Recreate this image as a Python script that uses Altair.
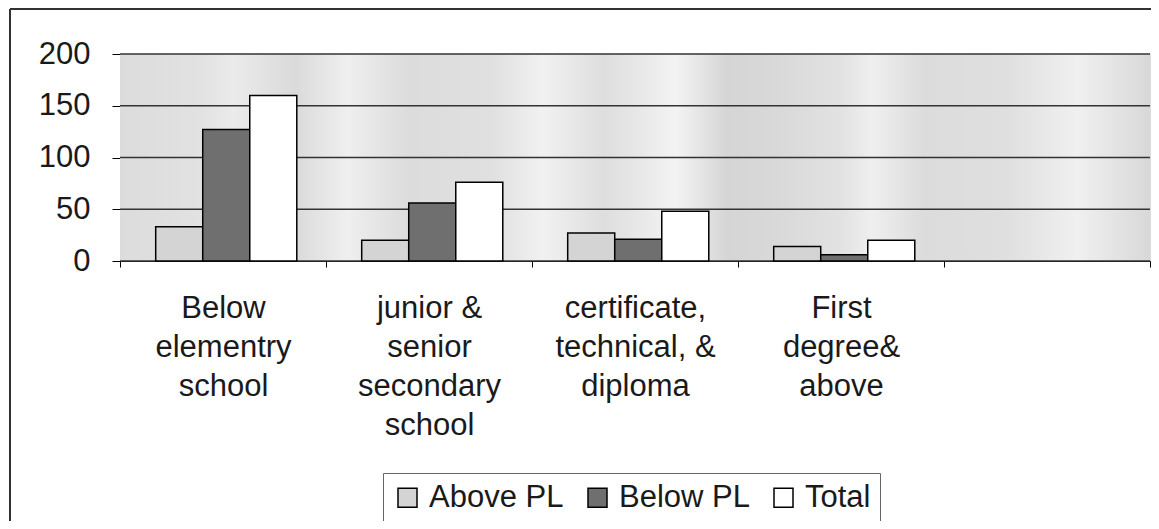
import altair as alt
import pandas as pd

categories = [
    "Below\nelementry\nschool",
    "junior &\nsenior\nsecondary\nschool",
    "certificate,\ntechnical, &\ndiploma",
    "First\ndegree&\nabove",
    " ",
]
series = ["Above PL", "Below PL", "Total"]
above_pl = [33, 20, 27, 14]
below_pl = [127, 56, 21, 6]
total = [160, 76, 48, 20]
y_ticks = [0, 50, 100, 150, 200]

rows = []
for i, c in enumerate(categories[:4]):
    rows.append({"category": c, "series": "Above PL", "value": above_pl[i]})
    rows.append({"category": c, "series": "Below PL", "value": below_pl[i]})
    rows.append({"category": c, "series": "Total", "value": total[i]})
df = pd.DataFrame(rows)
grid_df = pd.DataFrame({"tick": y_ticks})

W, H = 1030, 207
FONT = "Liberation Sans"

stops_spec = [
    (0.00, "#dcdcdc"), (0.08, "#e2e2e2"), (0.11, "#ebebeb"), (0.17, "#dadada"),
    (0.22, "#efefef"), (0.28, "#dcdcdc"), (0.36, "#e0e0e0"), (0.41, "#f1f1f1"),
    (0.47, "#dedede"), (0.54, "#f3f3f3"), (0.59, "#d5d5d5"), (0.64, "#d9d9d9"),
    (0.70, "#e2e2e2"), (0.73, "#efefef"), (0.78, "#dcdcdc"), (0.86, "#dfdfdf"),
    (0.93, "#f0f0f0"), (1.00, "#d8d8d8"),
]
gradient = alt.LinearGradient(
    gradient="linear",
    stops=[alt.GradientStop(offset=o, color=c) for o, c in stops_spec],
    x1=0, x2=1, y1=0, y2=0,
)

background = alt.Chart(grid_df).mark_rect(fill=gradient, stroke=None).encode(
    x=alt.value(0), x2=alt.value(W), y=alt.value(0), y2=alt.value(H)
)

grid = alt.Chart(grid_df).mark_rule(color="#333333", strokeWidth=1.3).encode(
    y=alt.Y("tick:Q", title=None),
    x=alt.value(0),
    x2=alt.value(W),
)

bars = alt.Chart(df).mark_bar(stroke="#000000", strokeWidth=1.5).encode(
    x=alt.X(
        "category:N",
        sort=categories,
        scale=alt.Scale(domain=categories, paddingInner=0, paddingOuter=0),
        axis=alt.Axis(
            title=None,
            labelAngle=0,
            labelExpr="split(datum.label, '\\n')",
            labelFont=FONT,
            labelFontSize=31,
            labelLineHeight=39,
            labelColor="#1a1a1a",
            labelBaseline="top",
            labelPadding=26,
            tickBand="extent",
            tickSize=6,
            tickColor="#000000",
            domainColor="#000000",
            grid=False,
        ),
    ),
    xOffset=alt.XOffset(
        "series:N", sort=series,
        scale=alt.Scale(domain=series, paddingInner=0, paddingOuter=0.69, align=0.55),
    ),
    y=alt.Y(
        "value:Q",
        scale=alt.Scale(domain=[0, 200], nice=False),
        axis=alt.Axis(
            title=None,
            values=y_ticks,
            grid=False,
            labelFont=FONT,
            labelFontSize=31,
            labelColor="#1a1a1a",
            labelPadding=22,
            tickSize=8,
            tickColor="#000000",
            domainColor="#000000",
        ),
    ),
    fill=alt.Fill(
        "series:N",
        sort=series,
        scale=alt.Scale(domain=series, range=["#d4d4d4", "#6f6f6f", "#ffffff"]),
        legend=alt.Legend(
            title=None,
            orient="none",
            legendX=263,
            legendY=419,
            direction="horizontal",
            labelFont=FONT,
            labelFontSize=31,
            labelColor="#1a1a1a",
            labelOffset=6,
            columnPadding=18,
            symbolType="square",
            symbolSize=361,
            symbolStrokeColor="#000000",
            symbolStrokeWidth=1.5,
            strokeColor="#666666",
            padding=9,
        ),
    ),
)

frame_left = alt.Chart(grid_df).mark_rule(color="#333333", strokeWidth=1.5).encode(
    x=alt.value(-110), y=alt.value(-45), y2=alt.value(480)
)
frame_top = alt.Chart(grid_df).mark_rule(color="#333333", strokeWidth=1.5).encode(
    x=alt.value(-110), x2=alt.value(W + 10), y=alt.value(-45)
)

chart = alt.layer(background, grid, bars, frame_left, frame_top).properties(
    width=W,
    height=H,
    autosize=alt.AutoSizeParams(type="none"),
    padding={"left": 112, "top": 46, "right": 1, "bottom": 260},
    background="#ffffff",
).configure_view(stroke="#222222", strokeWidth=1.3).configure(font=FONT)

chart.save("out.html", embed_options={"renderer": "svg", "actions": False})
